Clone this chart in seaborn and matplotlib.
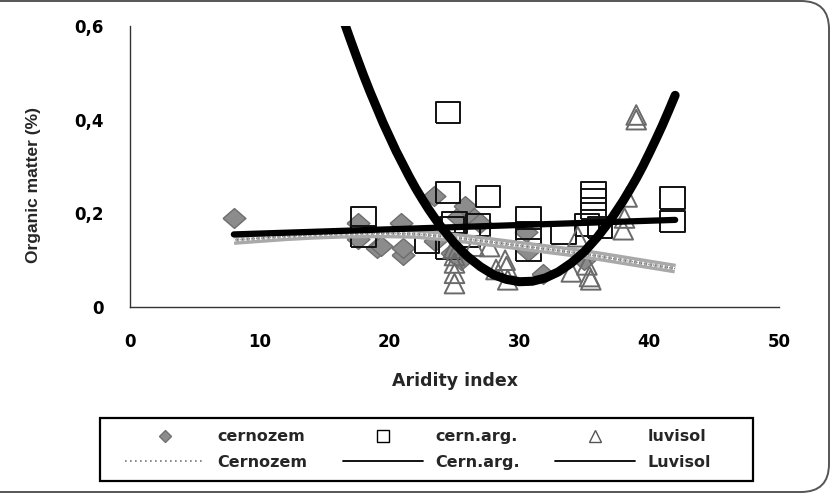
import numpy as np
import pandas as pd
import seaborn as sns
import matplotlib
matplotlib.use("Agg")
import matplotlib.pyplot as plt
from matplotlib.lines import Line2D
from matplotlib.patches import FancyBboxPatch, Rectangle

# Points: Aridity index vs Organic matter (%)
cernozem_x = [8.0, 17.6, 17.6, 19.0, 19.3, 20.9, 21.0, 21.0, 23.4, 23.5,
              24.8, 25.3, 25.8, 26.5, 27.0, 25.5, 30.7, 30.5, 31.8, 35.0]
cernozem_y = [0.19, 0.18, 0.145, 0.125, 0.13, 0.18, 0.11, 0.125, 0.236, 0.14,
              0.115, 0.193, 0.215, 0.19, 0.18, 0.10, 0.12, 0.16, 0.07, 0.10]

cernarg_x = [18.0, 18.0, 22.9, 24.5, 24.5, 25.0, 24.8, 24.5, 27.6, 26.8,
             26.0, 30.7, 30.7, 30.7, 33.4, 35.7, 35.7, 35.7, 35.2, 36.2,
             41.8, 41.8]
cernarg_y = [0.19, 0.15, 0.138, 0.415, 0.244, 0.18, 0.17, 0.125, 0.236, 0.175,
             0.15, 0.19, 0.158, 0.122, 0.157, 0.245, 0.23, 0.21, 0.175, 0.17,
             0.233, 0.183]

luvisol_x = [24.9, 25.0, 25.0, 25.0, 25.0, 26.5, 27.7, 28.2, 28.9, 29.0,
             29.1, 34.0, 34.5, 35.2, 35.4, 35.5, 38.0, 38.1, 38.3, 39.0, 39.0]
luvisol_y = [0.125, 0.11, 0.094, 0.072, 0.05, 0.13, 0.129, 0.08, 0.1, 0.086,
             0.058, 0.075, 0.15, 0.09, 0.065, 0.058, 0.165, 0.19, 0.235, 0.41, 0.40]

# Trend lines
cern_trend_x = [8, 10, 12, 14, 16, 18, 20, 22, 24, 26, 28, 30, 32, 34, 36, 38, 40, 42]
cern_trend_y = [0.143, 0.147, 0.151, 0.154, 0.156, 0.157, 0.157, 0.156, 0.151, 0.145,
                0.138, 0.131, 0.124, 0.117, 0.109, 0.100, 0.091, 0.082]

arg_trend_x = [8, 42]
arg_trend_y = [0.155, 0.186]

luv_trend_x = [16.5, 17, 17.5, 18, 18.5, 19, 19.5, 20, 20.5, 21, 21.5, 22, 22.5,
               23, 23.5, 24, 25, 26, 27, 28, 29, 30, 31, 32, 33, 34, 35, 36,
               37, 38, 38.5, 39, 39.5, 40, 40.5, 41, 41.5, 42]
luv_trend_y = [0.608, 0.569, 0.531, 0.494, 0.459, 0.426, 0.393, 0.363, 0.333,
               0.306, 0.279, 0.254, 0.231, 0.209, 0.189, 0.170, 0.136, 0.108,
               0.086, 0.069, 0.059, 0.054, 0.055, 0.062, 0.075, 0.094, 0.118,
               0.149, 0.185, 0.227, 0.250, 0.274, 0.300, 0.328, 0.357, 0.387,
               0.419, 0.452]

legend_labels = ["cernozem", "Cernozem", "cern.arg.", "Cern.arg.", "luvisol", "Luvisol"]

sns.set_style("white")
plt.rcParams["font.family"] = ["DejaVu Sans"]
plt.rcParams["font.weight"] = "bold"

fig = plt.figure(figsize=(8.37, 4.95), dpi=100)

# rounded outer chart border (left edge falls outside the image)
border = FancyBboxPatch((-0.5, 0.03), 8.79, 4.91,
                        boxstyle="round,pad=0,rounding_size=0.28",
                        transform=fig.dpi_scale_trans, fc="none",
                        ec="#555555", lw=1.4, zorder=-1)
fig.patches.append(border)

ax = fig.add_axes([130 / 837, 1 - 307 / 495, 649 / 837, 281 / 495])
ax.set_facecolor("none")

# slightly wide markers, like the stretched original
diamond = [(-1.15, 0), (0, 1), (1.15, 0), (0, -1), (-1.15, 0)]
rect = [(-1.14, -1), (1.14, -1), (1.14, 1), (-1.14, 1), (-1.14, -1)]

df_c = pd.DataFrame({"x": cernozem_x, "y": cernozem_y})
df_a = pd.DataFrame({"x": cernarg_x, "y": cernarg_y})
df_l = pd.DataFrame({"x": luvisol_x, "y": luvisol_y})

sns.scatterplot(data=df_c, x="x", y="y", ax=ax, marker=diamond, s=270,
                color="#8c8c8c", edgecolor="#6e6e6e", linewidth=1.0, zorder=2)
sns.scatterplot(data=df_a, x="x", y="y", ax=ax, marker=rect, s=310,
                facecolor="none", edgecolor="#111111", linewidth=1.4, zorder=3)
sns.scatterplot(data=df_l, x="x", y="y", ax=ax, marker="^", s=200,
                facecolor="none", edgecolor="#6a6a6a", linewidth=1.4, zorder=4)

# Cernozem trend: stippled band
ax.plot(cern_trend_x, cern_trend_y, color="#a9a9a9", lw=7,
        solid_capstyle="butt", zorder=5)
ax.plot(cern_trend_x, cern_trend_y, color="#ffffff", lw=2.2,
        linestyle=(0, (0.7, 1.0)), zorder=6)
ax.plot(cern_trend_x, cern_trend_y, color="#5a5a5a", lw=1.0,
        linestyle=(0.8, (0.5, 1.2)), zorder=6)

sns.lineplot(x=arg_trend_x, y=arg_trend_y, ax=ax, color="black", lw=4.5,
             sort=False, estimator=None, zorder=7)
sns.lineplot(x=luv_trend_x, y=luv_trend_y, ax=ax, color="black", lw=6.5,
             sort=False, estimator=None, zorder=8)
for ln in ax.lines[-2:]:
    ln.set_solid_capstyle("round")
    ln.set_solid_joinstyle("round")

ax.set_xlim(0, 50)
ax.set_ylim(0, 0.6)
ax.set_xticks([0, 10, 20, 30, 40, 50])
ax.set_yticks([0, 0.2, 0.4, 0.6])
ax.set_yticklabels(["0", "0,2", "0,4", "0,6"])
ax.tick_params(direction="out", length=5, width=1, colors="#333333",
               labelsize=12, labelcolor="black", pad=14)
for side in ["top", "right"]:
    ax.spines[side].set_visible(False)
for side in ["left", "bottom"]:
    ax.spines[side].set_color("#333333")
    ax.spines[side].set_linewidth(1.0)

ax.set_xlabel("Aridity index", fontsize=12.5, fontweight="bold", labelpad=15)
ax.set_ylabel("Organic matter (%)", fontsize=12.5, fontweight="bold",
              family=["Liberation Sans", "DejaVu Sans"])
ax.yaxis.set_label_coords(-0.137, 0.434)

handles = [
    Line2D([], [], marker="D", ls="none", ms=6, mfc="#8c8c8c", mec="#707070"),
    Line2D([], [], color="#777777", lw=1.2, ls=(0, (1, 2))),
    Line2D([], [], marker="s", ls="none", ms=8, mfc="white", mec="black"),
    Line2D([], [], color="black", lw=1.3),
    Line2D([], [], marker="^", ls="none", ms=8, mfc="white", mec="#555555"),
    Line2D([], [], color="black", lw=1.3),
]

leg = fig.legend(handles, legend_labels, ncol=3, loc="center left",
                 bbox_to_anchor=(125 / 837, 1 - 449.5 / 495),
                 frameon=False, prop={"size": 11.5, "weight": "bold"},
                 handlelength=5.0, handletextpad=0.8, columnspacing=2.2,
                 labelspacing=0.65, borderpad=0, borderaxespad=0)

fig.patches.append(Rectangle((100 / 837, 1 - 481 / 495), 653 / 837, 63 / 495,
                             transform=fig.transFigure, fc="none", ec="black",
                             lw=1.6))

fig.savefig("out.png", dpi=100)
